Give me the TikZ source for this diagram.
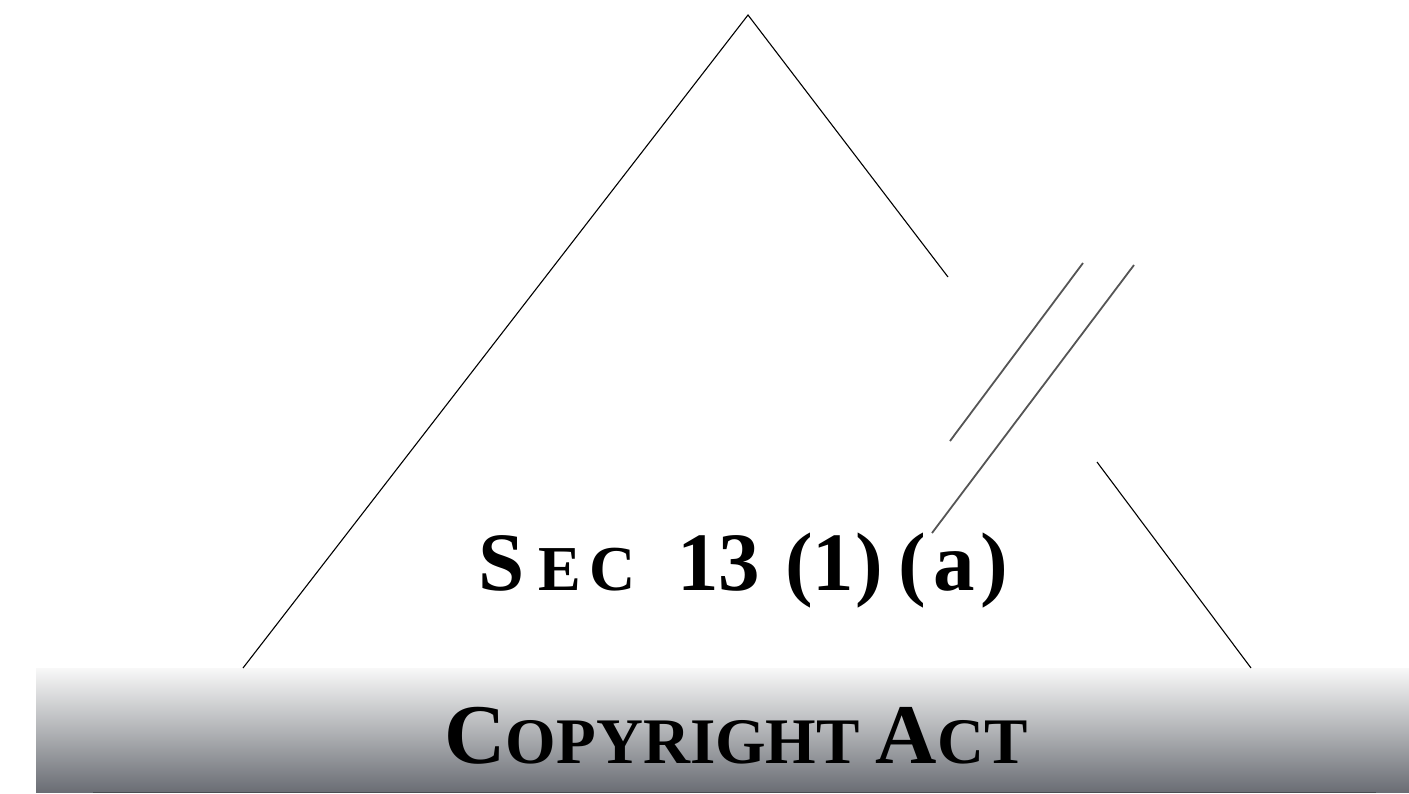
\documentclass[tikz,border=0pt]{standalone}
\usepackage{fontspec}
\setmainfont{Liberation Serif}
\usepackage{tikz}
\usetikzlibrary{positioning,calc}

\definecolor{barTop}{RGB}{248,248,248}
\definecolor{barMid}{RGB}{178,180,183}
\definecolor{barBot}{RGB}{106,109,116}
\definecolor{slashGray}{RGB}{85,85,85}

% big capital followed by smaller capitals
\newcommand{\bigsmall}[4]{{\fontsize{#1}{#1}\selectfont #3}{\fontsize{#2}{#2}\selectfont #4}}
% one spaced glyph in a box of fixed width
\newcommand{\gl}[2]{\makebox[#1pt][l]{#2}}

\begin{document}
\begin{tikzpicture}[x=1pt, y=-1pt, every node/.style={inner sep=0pt, outer sep=0pt}]
            \tikzset{edge/.style={draw=black, line width=1.1pt}, slash/.style={draw=slashGray, line width=1.8pt}, title/.style={font=\bfseries\fontsize{83}{83}\selectfont, anchor=base west}, barlab/.style={font=\bfseries, anchor=base}}
            \useasboundingbox (0,0) rectangle (1409,793);
            % points of the triangle
            \coordinate (apex) at (748,15);
            \coordinate (footL) at (243,668);
            \coordinate (gapT) at (948,277);
            \coordinate (gapB) at (1097,462);
            \coordinate (footR) at (1251,668);
            % the two slashes through the gap
            \coordinate (s1a) at (1083,263);
            \coordinate (s1b) at (950,441);
            \coordinate (s2a) at (1134,265);
            \coordinate (s2b) at (932,533);
            % bar at the bottom
            \shade[top color=barTop, bottom color=barBot, middle color=barMid] (36,668) rectangle (1409,792);
            \draw[barBot!70!black, line width=1pt] (93,792.5) -- (1376,792.5);
            % triangle sides
            \draw[edge] (footL) -- (apex) -- (gapT);
            \draw[edge] (gapB) -- (footR);
            \draw[slash] (s1a) -- (s1b);
            \draw[slash] (s2a) -- (s2b);
            % labels
            \node[title] (sec) at (478,590) {\gl{60}{S}{\fontsize{64}{64}\selectfont\gl{52}{E}\gl{87}{C}}\gl{41}{1}\gl{68}{3}\gl{26}{(}\gl{44}{1}\gl{43}{)}\gl{35}{(}\gl{47}{a})};
            \node[barlab] (act) at (736,763) {\bigsmall{85}{65}{C}{OPYRIGHT}\kern16pt\bigsmall{85}{65}{A}{CT}};
        \end{tikzpicture}
\end{document}
